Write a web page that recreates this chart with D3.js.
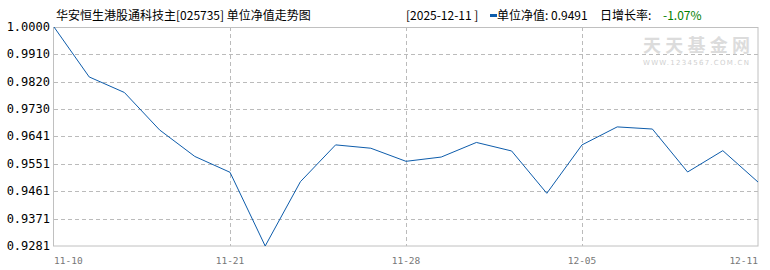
<!DOCTYPE html>
<html>
<head>
<meta charset="utf-8">
<script src="https://cdn.jsdelivr.net/npm/d3@7"></script>
<style>
  body { margin: 0; background: #fff; }
  svg { display: block; }
</style>
</head>
<body>
<svg width="770" height="270"></svg>
<script>
// trading days shown on the chart
const dates = ['11-10', '11-13', '11-14', '11-17', '11-19', '11-21',
  '11-24', '11-25', '11-26', '11-27', '11-28',
  '12-01', '12-02', '12-03', '12-04', '12-05',
  '12-06', '12-08', '12-09', '12-10', '12-11'];
const nav = [1.0000, 0.9836, 0.9785, 0.9662, 0.9575, 0.9523,
  0.9281, 0.9492, 0.9613, 0.9602, 0.9559,
  0.9573, 0.9621, 0.9593, 0.9454, 0.9613,
  0.9672, 0.9665, 0.9524, 0.9594, 0.9491];
const yTicks = [0.9281, 0.9371, 0.9461, 0.9551, 0.9641, 0.9730, 0.9820, 0.9910, 1.0000];
const xLabelIdx = [0, 5, 10, 15, 20];

const svg = d3.select('svg');
const margin = {left: 54, right: 12, top: 27, bottom: 24};
const width = 770 - margin.left - margin.right,
  height = 270 - margin.top - margin.bottom;

const x = d3.scalePoint()
  .domain(d3.range(dates.length))
  .range([0, width]);
const y = d3.scaleLinear()
  .domain([d3.min(yTicks), d3.max(yTicks)])
  .range([height, 0]);

const g = svg.append('g')
  .attr('transform', `translate(${margin.left},${margin.top})`);

// watermark
svg.append('text')
  .attr('x', 643).attr('y', 52)
  .attr('font-family', 'Noto Sans CJK SC')
  .attr('font-size', 18)
  .attr('font-weight', 'bold')
  .attr('fill', '#dcdcdc')
  .attr('textLength', 107)
  .text('天天基金网');
svg.append('text')
  .attr('x', 643).attr('y', 65)
  .attr('font-family', 'DejaVu Sans')
  .attr('font-size', 7)
  .attr('fill', '#d0d0d0')
  .attr('textLength', 106)
  .text('WWW.1234567.COM.CN');

// horizontal grid
g.append('g')
  .selectAll('line')
  .data(yTicks.slice(1, -1))
  .enter()
  .append('line')
  .attr('x1', 0).attr('x2', width)
  .attr('y1', d => Math.round(y(d)) + 0.5)
  .attr('y2', d => Math.round(y(d)) + 0.5)
  .attr('stroke', '#bbb')
  .attr('stroke-dasharray', '4,3');

// vertical grid
g.append('g')
  .selectAll('line')
  .data(xLabelIdx.slice(1, -1))
  .enter()
  .append('line')
  .attr('x1', d => Math.round(x(d)) + 0.5)
  .attr('x2', d => Math.round(x(d)) + 0.5)
  .attr('y1', 0).attr('y2', height)
  .attr('stroke', '#bbb')
  .attr('stroke-dasharray', '4,3');

// frame
g.append('rect')
  .attr('x', -0.5).attr('y', 0.5)
  .attr('width', width + 0.5).attr('height', height - 0.5)
  .attr('fill', 'none')
  .attr('stroke', '#c0c0c0');

// y axis labels
g.append('g')
  .selectAll('text')
  .data(yTicks)
  .enter()
  .append('text')
  .attr('x', -4)
  .attr('y', d => y(d) + 4)
  .attr('text-anchor', 'end')
  .attr('font-family', 'DejaVu Sans Mono')
  .attr('font-size', 12)
  .attr('fill', '#000')
  .text(d => d.toFixed(4));

// x axis labels
g.append('g')
  .selectAll('text')
  .data(xLabelIdx)
  .enter()
  .append('text')
  .attr('x', d => x(d))
  .attr('y', height + 18)
  .attr('text-anchor', (d, i) => i === 0 ? 'start' : i === xLabelIdx.length - 1 ? 'end' : 'middle')
  .attr('font-family', 'DejaVu Sans Mono')
  .attr('font-size', 9.5)
  .attr('fill', '#777')
  .text(d => dates[d]);

// nav line
const line = d3.line()
  .x((d, i) => x(i))
  .y(d => y(d));
g.append('path')
  .datum(nav)
  .attr('d', line)
  .attr('fill', 'none')
  .attr('stroke', '#0d5cab')
  .attr('stroke-width', 1);

// header
const head = svg.append('g')
  .attr('font-family', 'Noto Sans CJK SC')
  .attr('font-size', 12)
  .attr('fill', '#000');
head.append('text').attr('x', 56).attr('y', 20)
  .text('华安恒生港股通科技主[025735] 单位净值走势图');
head.append('text').attr('x', 406).attr('y', 20)
  .text(`[2025-${dates[dates.length - 1]} ]`);
head.append('rect')
  .attr('x', 490).attr('y', 14).attr('width', 7).attr('height', 3)
  .attr('fill', '#0d5cab');
head.append('text').attr('x', 497).attr('y', 20)
  .text(`单位净值: ${nav[nav.length - 1].toFixed(4)}`);
head.append('text').attr('x', 600).attr('y', 20)
  .text('日增长率:');
const chg = (nav[nav.length - 1] / nav[nav.length - 2] - 1) * 100;
head.append('text').attr('x', 663).attr('y', 20)
  .attr('fill', '#008000')
  .text(`${chg.toFixed(2)}%`);
</script>
</body>
</html>
